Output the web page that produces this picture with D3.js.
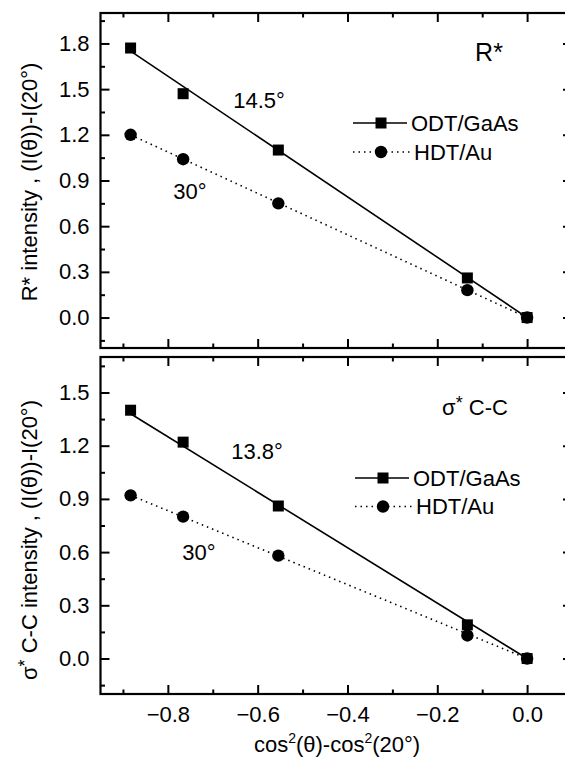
<!DOCTYPE html>
<html>
<head>
<meta charset="utf-8">
<script src="https://cdnjs.cloudflare.com/ajax/libs/d3/7.8.5/d3.min.js"></script>
<style>
  body { margin: 0; background: #fff; }
  svg { display: block; }
  text { font-family: "Liberation Sans", Arial, sans-serif; fill: #000; }
</style>
</head>
<body>
<div id="chart"></div>
<script>
var width = 565;
var height = 761;

// cos^2(theta) - cos^2(20deg) for theta = 90, 70, 55, 30, 20
var xVals = [-0.883, -0.766, -0.554, -0.133, 0.0];

// R* panel
var odtR = [1.77, 1.47, 1.10, 0.26, 0.00];
var hdtR = [1.20, 1.04, 0.75, 0.18, 0.00];
// sigma* C-C panel
var odtCC = [1.40, 1.22, 0.86, 0.19, 0.00];
var hdtCC = [0.92, 0.80, 0.58, 0.13, 0.00];

// fitted lines (end points)
var fitX = [-0.883, 0.0];
var fitOdtR = [1.75, 0.0];
var fitHdtR = [1.20, 0.0];
var fitOdtCC = [1.38, 0.0];
var fitHdtCC = [0.92, 0.0];

var xMajor = [-0.8, -0.6, -0.4, -0.2, 0.0];
var xMinor = [-0.9, -0.7, -0.5, -0.3, -0.1];
var yMajorR = [0.0, 0.3, 0.6, 0.9, 1.2, 1.5, 1.8];
var yMajorCC = [0.0, 0.3, 0.6, 0.9, 1.2, 1.5];

var svg = d3.select("#chart").append("svg")
  .attr("width", width)
  .attr("height", height);

var left = 100.5, right = 572;
var fontSize = 22;
var majorLen = 9, minorLen = 4.5;

var x = d3.scaleLinear().domain([-0.95, 0.1]).range([left, right]);

function drawPanel(opts) {
  var y = d3.scaleLinear().domain(opts.yDomain).range([opts.bottom, opts.top]);
  var g = svg.append("g");

  var yMinor = [];
  for (var v = -0.15; v < opts.yDomain[1]; v += 0.3) yMinor.push(+v.toFixed(2));

  // frame
  g.append("rect")
    .attr("x", left).attr("y", opts.top)
    .attr("width", right - left).attr("height", opts.bottom - opts.top)
    .attr("fill", "none").attr("stroke", "#000").attr("stroke-width", 2.2);

  function styleAxis(sel) {
    sel.select(".domain").remove();
    sel.selectAll(".tick line").attr("stroke", "#000").attr("stroke-width", 2);
    sel.selectAll(".tick text").attr("font-size", fontSize).attr("font-family", "Liberation Sans, Arial, sans-serif");
  }

  // left axis
  g.append("g").attr("transform", `translate(${left},0)`)
    .call(d3.axisLeft(y).tickValues(opts.yMajor).tickSize(-majorLen).tickPadding(11).tickFormat(d3.format(".1f")))
    .call(styleAxis);
  g.append("g").attr("transform", `translate(${left},0)`)
    .call(d3.axisLeft(y).tickValues(yMinor).tickSize(-minorLen).tickFormat(""))
    .call(styleAxis);
  // right axis
  g.append("g").attr("transform", `translate(${right},0)`)
    .call(d3.axisRight(y).tickValues(opts.yMajor).tickSize(-majorLen).tickFormat(""))
    .call(styleAxis);
  g.append("g").attr("transform", `translate(${right},0)`)
    .call(d3.axisRight(y).tickValues(yMinor).tickSize(-minorLen).tickFormat(""))
    .call(styleAxis);
  // bottom axis
  g.append("g").attr("transform", `translate(0,${opts.bottom})`)
    .call(d3.axisBottom(x).tickValues(xMajor).tickSize(-majorLen).tickPadding(12)
      .tickFormat(opts.xLabels ? d3.format(".1f") : ""))
    .call(styleAxis);
  g.append("g").attr("transform", `translate(0,${opts.bottom})`)
    .call(d3.axisBottom(x).tickValues(xMinor).tickSize(-minorLen).tickFormat(""))
    .call(styleAxis);
  // top axis
  g.append("g").attr("transform", `translate(0,${opts.top})`)
    .call(d3.axisTop(x).tickValues(xMajor).tickSize(-majorLen).tickFormat(""))
    .call(styleAxis);
  g.append("g").attr("transform", `translate(0,${opts.top})`)
    .call(d3.axisTop(x).tickValues(xMinor).tickSize(-minorLen).tickFormat(""))
    .call(styleAxis);

  // fit lines
  var line = d3.line().x((d) => x(d[0])).y((d) => y(d[1]));
  g.append("path")
    .datum(d3.zip(fitX, opts.fitOdt))
    .attr("d", line)
    .attr("fill", "none").attr("stroke", "#000").attr("stroke-width", 1.6);
  g.append("path")
    .datum(d3.zip(fitX, opts.fitHdt))
    .attr("d", line)
    .attr("fill", "none").attr("stroke", "#000").attr("stroke-width", 1.6)
    .attr("stroke-dasharray", "1.5,4");

  // markers
  var sq = 11;
  g.selectAll("circle.hdt")
    .data(d3.zip(xVals, opts.hdt))
    .enter().append("circle")
    .attr("class", "hdt")
    .attr("cx", (d) => x(d[0]))
    .attr("cy", (d) => y(d[1]))
    .attr("r", 6.2)
    .attr("fill", "#000");
  g.selectAll("rect.odt")
    .data(d3.zip(xVals, opts.odt))
    .enter().append("rect")
    .attr("class", "odt")
    .attr("x", (d) => x(d[0]) - sq / 2)
    .attr("y", (d) => y(d[1]) - sq / 2)
    .attr("width", sq).attr("height", sq)
    .attr("fill", "#000");

  // legend
  var lg = g.append("g").attr("transform", `translate(${opts.legend[0]},${opts.legend[1]})`);
  lg.append("line").attr("x1", 0).attr("x2", 54).attr("y1", 0).attr("y2", 0)
    .attr("stroke", "#000").attr("stroke-width", 1.6);
  lg.append("rect").attr("x", 28 - sq / 2).attr("y", -sq / 2).attr("width", sq).attr("height", sq).attr("fill", "#000");
  lg.append("text").attr("x", 58).attr("y", 7.5).attr("font-size", fontSize).text("ODT/GaAs");
  lg.append("line").attr("x1", 0).attr("x2", 58).attr("y1", opts.legendGap).attr("y2", opts.legendGap)
    .attr("stroke", "#000").attr("stroke-width", 1.6).attr("stroke-dasharray", "1.5,4");
  lg.append("circle").attr("cx", 28).attr("cy", opts.legendGap).attr("r", 6.2).attr("fill", "#000");
  lg.append("text").attr("x", 61).attr("y", opts.legendGap + 7.5).attr("font-size", fontSize).text("HDT/Au");

  // annotations
  g.append("text").attr("x", opts.angle1[0]).attr("y", opts.angle1[1])
    .attr("text-anchor", "middle").attr("font-size", fontSize).text(opts.angleText);
  g.append("text").attr("x", opts.angle2[0]).attr("y", opts.angle2[1])
    .attr("text-anchor", "middle").attr("font-size", fontSize).text("30°");
  opts.title(g.append("text").attr("x", opts.titlePos[0]).attr("y", opts.titlePos[1])
    .attr("text-anchor", "middle").attr("font-size", opts.titleSize));

  // y axis title
  var yt = g.append("text")
    .attr("transform", `translate(37,${opts.yTitleY}) rotate(-90)`)
    .attr("text-anchor", "middle")
    .attr("font-size", fontSize);
  opts.yTitle(yt);
  return y;
}

drawPanel({
  top: 13, bottom: 348,
  yDomain: [-0.2, 2.0],
  yMajor: yMajorR,
  odt: odtR, hdt: hdtR,
  fitOdt: fitOdtR, fitHdt: fitHdtR,
  xLabels: false,
  legend: [353, 123],
  legendGap: 29,
  angleText: "14.5°",
  angle1: [259, 108],
  angle2: [190, 199],
  titlePos: [489, 61],
  titleSize: 25,
  title: (t) => t.text("R*"),
  yTitle: (t) => t.text("R* intensity , (I(θ))-I(20°)"),
  yTitleY: 182
});

drawPanel({
  top: 357, bottom: 694,
  yDomain: [-0.2, 1.7],
  yMajor: yMajorCC,
  odt: odtCC, hdt: hdtCC,
  fitOdt: fitOdtCC, fitHdt: fitHdtCC,
  xLabels: true,
  legend: [355, 478],
  legendGap: 28.5,
  angleText: "13.8°",
  angle1: [257, 459],
  angle2: [199, 560],
  titlePos: [475, 415],
  titleSize: 22,
  title: (t) => {
    t.append("tspan").text("σ");
    t.append("tspan").attr("dy", -6).attr("font-size", 18).text("*");
    t.append("tspan").attr("dy", 6).text(" C-C");
  },
  yTitle: (t) => {
    t.append("tspan").text("σ");
    t.append("tspan").attr("dy", -6).attr("font-size", 18).text("*");
    t.append("tspan").attr("dy", 6).text(" C-C intensity , (I(θ))-I(20°)");
  },
  yTitleY: 540
});

// x axis title
var xt = svg.append("text")
  .attr("x", 337)
  .attr("y", 752)
  .attr("text-anchor", "middle")
  .attr("font-size", fontSize);
xt.append("tspan").text("cos");
xt.append("tspan").attr("dy", -9).attr("font-size", 14).text("2");
xt.append("tspan").attr("dy", 9).text("(θ)-cos");
xt.append("tspan").attr("dy", -9).attr("font-size", 14).text("2");
xt.append("tspan").attr("dy", 9).text("(20°)");
</script>
</body>
</html>
